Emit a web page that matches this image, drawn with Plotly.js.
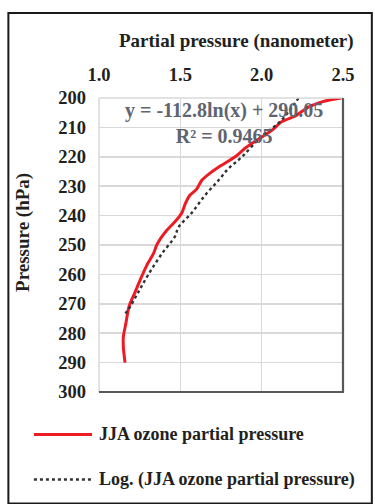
<!DOCTYPE html>
<html>
<head>
<meta charset="utf-8">
<script src="https://cdn.plot.ly/plotly-3.0.1.min.js"></script>
<style>html,body{margin:0;padding:0;background:#fff;}#chart{width:375px;height:504px;}</style>
</head>
<body>
<div id="chart"></div>
<script>
// JJA ozone partial pressure profile
var pressureObs = [200, 201, 203, 206, 208, 211, 214, 217, 220, 223, 226, 228, 231, 233, 236, 239, 242, 245, 248, 250, 253, 257, 262, 266, 270, 272, 277, 281, 285, 290];
var partialObs  = [2.49, 2.39, 2.29, 2.21, 2.125, 2.063, 1.98, 1.90, 1.837, 1.75, 1.673, 1.632, 1.60, 1.56, 1.53, 1.51, 1.468, 1.417, 1.376, 1.355, 1.334, 1.293, 1.252, 1.222, 1.19, 1.18, 1.164, 1.15, 1.15, 1.16];

// Logarithmic trend line
var pressureTrend = [200, 208, 213, 220, 224, 228, 233, 239, 244, 247, 253, 260, 266, 272, 274];
var partialTrend  = [2.227, 2.114, 2.0, 1.879, 1.796, 1.735, 1.653, 1.571, 1.488, 1.468, 1.386, 1.304, 1.242, 1.18, 1.15];

var xTickVals = [1.0, 1.5, 2.0, 2.5];
var yTickVals = [200, 210, 220, 230, 240, 250, 260, 270, 280, 290, 300];

var seriesNames = ["JJA ozone partial pressure", "Log. (JJA ozone partial pressure)"];
var equationText = "y = -112.8ln(x) + 290.05<br>R\u00b2 = 0.9465";

var FONT = "Liberation Serif, Times New Roman, serif";
var RED = "#ed1c24";
var DOT = "#333333";

var traces = [
  {x: partialObs, y: pressureObs, type: "scatter", mode: "lines", name: seriesNames[0],
   line: {color: RED, width: 3, shape: "spline", smoothing: 0.6}, hoverinfo: "skip"},
  {x: partialTrend, y: pressureTrend, type: "scatter", mode: "lines", name: seriesNames[1],
   line: {color: DOT, width: 2.4, dash: "dot", shape: "spline"}, hoverinfo: "skip"}
];

var layout = {
  width: 375, height: 504,
  margin: {l: 99, r: 32.3, t: 98.3, b: 112.3},
  paper_bgcolor: "#fff", plot_bgcolor: "#fff",
  showlegend: false,
  font: {family: FONT, color: "#231f20", size: 18},
  xaxis: {
    side: "top", range: [1.0, 2.5], tickvals: xTickVals, tickformat: ".1f",
    showgrid: true, gridcolor: "#d9d9d9", gridwidth: 1.5,
    zeroline: false, showline: false, ticks: "",
    ticklabelstandoff: 12,
    tickfont: {family: FONT, size: 18.5, color: "#231f20", weight: "bold"}
  },
  yaxis: {
    range: [300, 200], tickvals: yTickVals,
    showgrid: true, gridcolor: "#d9d9d9", gridwidth: 1.5,
    zeroline: false, showline: false, ticks: "",
    ticklabelstandoff: 12,
    tickfont: {family: FONT, size: 18.5, color: "#231f20", weight: "bold"}
  },
  shapes: [
    {type: "rect", xref: "paper", yref: "paper", x0: -0.3714, x1: 1.1182, y0: -0.3793, y1: 1.289,
     line: {color: "#1a1a1a", width: 2}, layer: "below"},
    {type: "line", xref: "paper", yref: "paper", x0: 0, x1: 1, y0: 1, y1: 1, line: {color: "#d9d9d9", width: 1.5}},
    {type: "line", xref: "paper", yref: "paper", x0: 0, x1: 0, y0: 0, y1: 1, line: {color: "#d9d9d9", width: 1.5}},
    {type: "line", xref: "paper", yref: "paper", x0: 0, x1: 1.004, y0: 0, y1: 0, line: {color: "#595959", width: 2.2}},
    {type: "line", xref: "paper", yref: "paper", x0: 1, x1: 1, y0: 0, y1: 1, line: {color: "#595959", width: 2.2}},
    {type: "line", xref: "paper", yref: "paper", x0: -0.2667, x1: -0.0287, y0: -0.1442, y1: -0.1442,
     line: {color: RED, width: 3}},
    {type: "line", xref: "paper", yref: "paper", x0: -0.2667, x1: -0.0287, y0: -0.2976, y1: -0.2976,
     line: {color: DOT, width: 2.6, dash: "dot"}}
  ],
  annotations: [
    {text: "<b>Partial pressure (nanometer)</b>", xref: "paper", yref: "paper", x: 0.565, y: 1.193,
     xanchor: "center", yanchor: "middle", showarrow: false, font: {family: FONT, size: 19, color: "#231f20"}},
    {text: "<b>Pressure (hPa)</b>", xref: "paper", yref: "paper", x: -0.312, y: 0.544, textangle: -90,
     xanchor: "center", yanchor: "middle", showarrow: false, font: {family: FONT, size: 19, color: "#231f20"}},
    {text: "<b>" + equationText + "</b>", xref: "paper", yref: "paper", x: 0.513, y: 0.914,
     xanchor: "center", yanchor: "middle", align: "center", showarrow: false,
     font: {family: FONT, size: 20, color: "#5f6470"}},
    {text: "<b>" + seriesNames[0] + "</b>", xref: "paper", yref: "paper", x: -0.0082, y: -0.1442,
     xanchor: "left", yanchor: "middle", showarrow: false, font: {family: FONT, size: 18, color: "#231f20"}},
    {text: "<b>" + seriesNames[1] + "</b>", xref: "paper", yref: "paper", x: -0.0082, y: -0.2976,
     xanchor: "left", yanchor: "middle", showarrow: false, font: {family: FONT, size: 18, color: "#231f20"}}
  ]
};

Plotly.newPlot("chart", traces, layout, {displayModeBar: false, staticPlot: true});
</script>
</body>
</html>
